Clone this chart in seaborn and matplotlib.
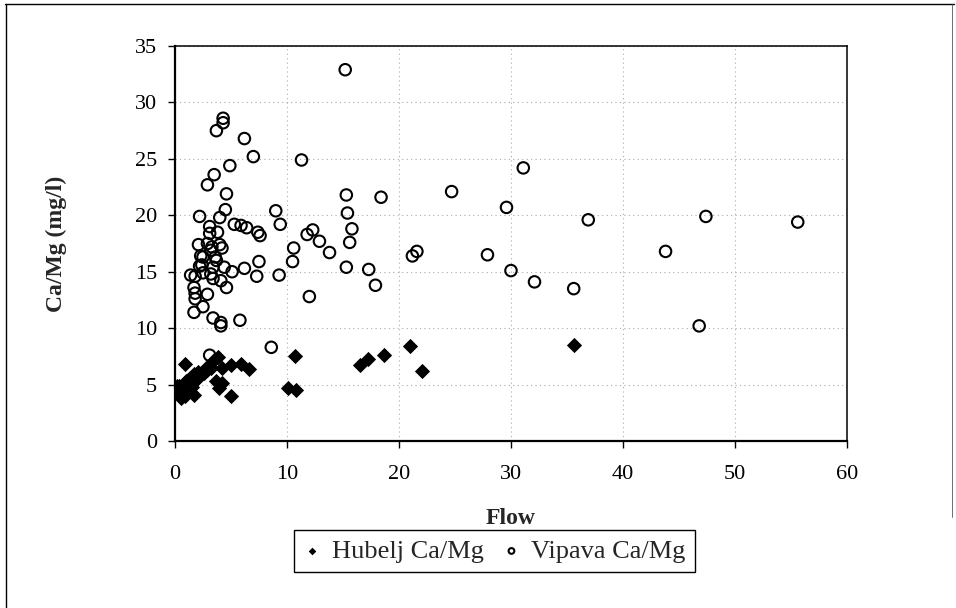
import seaborn as sns
import pandas as pd
import matplotlib.pyplot as plt
from matplotlib.lines import Line2D

# Hubelj Ca/Mg (filled diamonds)
hub_flow = [0.9, 2.9, 3.8, 3.5, 4.2, 5.0, 5.9, 6.6, 10.7, 18.7, 17.2, 16.5, 21.0, 35.6,
            22.1, 10.1, 10.8, 3.9, 4.2, 3.7, 5.0, 0.5, 0.2, 1.7, 0.7, 1.0, 1.3, 1.7,
            2.1, 2.5, 2.9, 3.2, 1.4, 1.8, 0.4, 0.7, 1.1, 0.2, 1.5, 0.9, 2.1, 2.6]
hub_ratio = [6.8, 6.6, 7.4, 7.2, 6.5, 6.7, 6.8, 6.4, 7.5, 7.6, 7.3, 6.7, 8.4, 8.5,
             6.2, 4.7, 4.5, 4.7, 5.1, 5.3, 4.0, 3.8, 4.4, 4.1, 4.7, 5.3, 5.6, 5.9,
             6.1, 6.1, 6.3, 6.5, 5.1, 5.4, 4.9, 4.2, 4.6, 4.9, 4.8, 4.0, 5.6, 6.0]

# Vipava Ca/Mg (open circles)
vip_flow = [15.2, 4.3, 4.3, 3.7, 6.2, 7.0, 11.3, 31.1, 4.9, 3.5, 2.9, 24.7, 4.6, 15.3,
            18.4, 29.6, 4.5, 9.0, 15.4, 2.2, 47.4, 36.9, 4.0, 5.3, 5.9, 6.4, 9.4, 55.6,
            3.1, 15.8, 7.4, 7.6, 12.3, 11.8, 3.1, 3.8, 12.9, 15.6, 10.6, 2.1, 2.9, 4.0,
            4.2, 3.2, 13.8, 43.8, 21.6, 21.2, 27.9, 2.3, 10.5, 7.5, 3.7, 4.4, 6.2, 15.3,
            17.3, 30.0, 5.1, 3.2, 2.2, 1.4, 1.8, 7.3, 9.3, 3.4, 32.1, 4.1, 17.9, 4.6,
            35.6, 1.7, 1.8, 2.9, 12.0, 1.8, 2.5, 1.7, 3.4, 4.1, 4.1, 5.8, 46.8, 8.6,
            3.1, 2.5, 3.6, 2.4, 3.4, 2.5, 3.3]
vip_ratio = [32.9, 28.6, 28.2, 27.5, 26.8, 25.2, 24.9, 24.2, 24.4, 23.6, 22.7, 22.1, 21.9, 21.8,
             21.6, 20.7, 20.5, 20.4, 20.2, 19.9, 19.9, 19.6, 19.8, 19.2, 19.1, 18.9, 19.2, 19.4,
             19.0, 18.8, 18.5, 18.2, 18.7, 18.3, 18.4, 18.5, 17.7, 17.6, 17.1, 17.4, 17.5, 17.4,
             17.1, 16.9, 16.7, 16.8, 16.8, 16.4, 16.5, 16.4, 15.9, 15.9, 16.0, 15.4, 15.3, 15.4,
             15.2, 15.1, 15.0, 14.8, 15.5, 14.7, 14.6, 14.6, 14.7, 14.4, 14.1, 14.2, 13.8, 13.6,
             13.5, 13.6, 13.1, 13.0, 12.8, 12.6, 11.9, 11.4, 10.9, 10.5, 10.2, 10.7, 10.2, 8.3,
             7.6, 16.3, 16.3, 15.6, 15.4, 14.9, 17.2]

hub = pd.DataFrame({'Flow': hub_flow, 'CaMg': hub_ratio})
vip = pd.DataFrame({'Flow': vip_flow, 'CaMg': vip_ratio})

sns.set_style('ticks')
plt.rcParams['font.family'] = ['Liberation Serif', 'DejaVu Serif']

fig = plt.figure(figsize=(9.56, 6.08), dpi=100)
ax = fig.add_axes([0.183, 0.2747, 0.703, 0.6496])

sns.scatterplot(x='Flow', y='CaMg', data=hub, marker='D', color='black', s=60,
                linewidth=0, ax=ax, label='Hubelj Ca/Mg', zorder=3)
sns.scatterplot(x='Flow', y='CaMg', data=vip, marker='o', facecolor='none', edgecolor='black',
                s=68, linewidth=1.5, ax=ax, label='Vipava Ca/Mg', zorder=3)

ax.set_xlim(0, 60)
ax.set_ylim(0, 35)
ax.set_xticks(range(0, 61, 10))
ax.set_yticks(range(0, 36, 5))
ax.grid(True, color='#aaaaaa', linestyle=(0, (1, 3)), linewidth=0.8)
for sp in ax.spines.values():
    sp.set_visible(True)
    sp.set_color('black')
    sp.set_linewidth(1.1)
ax.spines['left'].set_linewidth(1.6)
ax.spines['bottom'].set_linewidth(1.6)
ax.tick_params(axis='both', direction='out', length=5, width=1, labelsize=16, colors='black')
ax.tick_params(axis='x', pad=12)
ax.tick_params(axis='y', pad=8)

ax.set_xlabel('Flow', fontsize=17, fontweight='bold')
ax.set_ylabel('Ca/Mg (mg/l)', fontsize=17, fontweight='bold')
ax.xaxis.set_label_coords(0.5, -0.17)
ax.yaxis.set_label_coords(-0.16, 0.5)

handles, labels = ax.get_legend_handles_labels()
ax.legend_.remove()
fig.legend(handles, labels, loc='upper center', bbox_to_anchor=(0.517, 0.128), ncol=2,
           frameon=True, fancybox=False, edgecolor='black', framealpha=1,
           fontsize=19, markerscale=0.5, handlelength=0.7, handletextpad=0.4,
           columnspacing=0.7, borderpad=0.35, borderaxespad=0)

# page border of the scanned figure
fig.add_artist(Line2D([0.005, 0.998], [0.994, 0.994], color='black', lw=1))
fig.add_artist(Line2D([0.006, 0.006], [0.0, 0.994], color='black', lw=1))
fig.add_artist(Line2D([0.996, 0.996], [0.15, 0.994], color='#555555', lw=0.6))

plt.savefig('out.png', dpi=100)
